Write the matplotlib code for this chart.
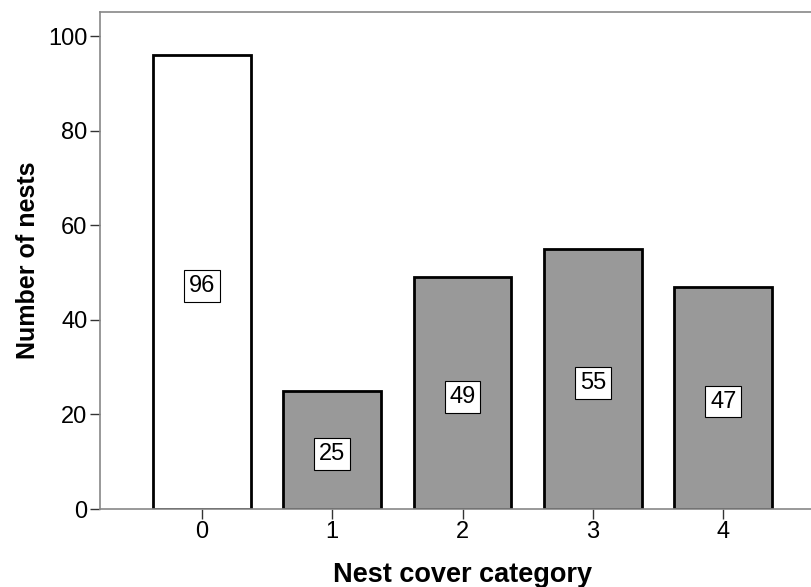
import matplotlib
matplotlib.use("Agg")
import matplotlib.pyplot as plt

categories = ["0", "1", "2", "3", "4"]
counts = [96, 25, 49, 55, 47]
fill_colors = ["#ffffff", "#999999", "#999999", "#999999", "#999999"]
yticks = [0, 20, 40, 60, 80, 100]

plt.rcParams['font.family'] = ['Liberation Sans', 'DejaVu Sans']

fig = plt.figure(figsize=(8.12, 5.87), dpi=100)
ax = fig.add_axes([100/812, 78/587, 725/812, 497/587])

x = list(range(len(categories)))
ax.bar(x, counts, width=0.75, color=fill_colors, edgecolor="black", linewidth=2, zorder=2)
for xi, c in zip(x, counts):
    ax.annotate(str(c), xy=(xi, c/2), xytext=(0, -2.8), textcoords="offset points",
                ha="center", va="center", fontsize=17, zorder=3,
                bbox=dict(boxstyle="square,pad=0.2", facecolor="white", edgecolor="black", linewidth=0.8))

ax.set_xlim(-0.78, 4.78)
ax.set_ylim(0, 105.1)
ax.set_xticks(x)
ax.set_xticklabels(categories)
ax.set_yticks(yticks)
ax.tick_params(labelsize=17, length=7, width=1, color="#333333", pad=2)
for s in ["left", "top", "bottom"]:
    ax.spines[s].set_color("#888888")
    ax.spines[s].set_linewidth(1.2)
ax.spines["right"].set_visible(False)
ax.set_xlabel("Nest cover category", fontsize=19.5, fontweight="bold", labelpad=13)
ax.set_ylabel("Number of nests", fontsize=18, fontweight="bold", labelpad=6)

fig.savefig("out.png", dpi=100)
